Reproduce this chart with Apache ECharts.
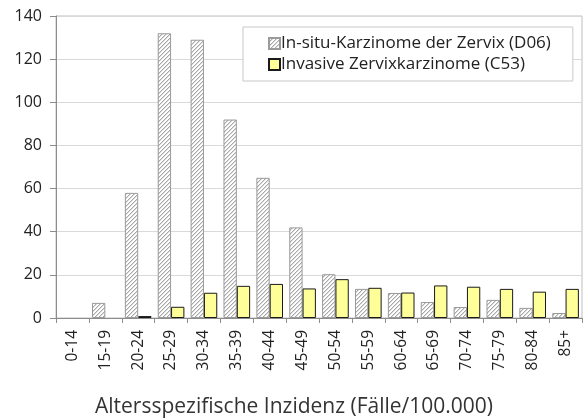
<!DOCTYPE html>
<html><head><meta charset="utf-8">
<script src="https://cdn.jsdelivr.net/npm/echarts@6/dist/echarts.min.js"></script>
<style>html,body{margin:0;padding:0;background:#fff}#c{width:584px;height:419px}</style>
</head><body><div id="c"></div>
<script>
const categories = ['0-14','15-19','20-24','25-29','30-34','35-39','40-44','45-49','50-54','55-59','60-64','65-69','70-74','75-79','80-84','85+'];
const inSitu = [0, 7, 58, 132, 129, 92, 65, 42, 20.3, 13.5, 11.6, 7.4, 5.1, 8.4, 4.7, 2.3];
const invasive = [0, 0, 0.9, 5.2, 11.7, 14.9, 15.8, 13.7, 18, 14, 11.8, 15.1, 14.5, 13.5, 12.2, 13.5];
const seriesNames = ['In-situ-Karzinome der Zervix (D06)', 'Invasive Zervixkarzinome (C53)'];
const yTicks = [0, 20, 40, 60, 80, 100, 120, 140];
const axisTitle = 'Altersspezifische Inzidenz (Fälle/100.000)';

const FONT = 'Open Sans';
const hideZero = arr => arr.map(v => (v === 0 ? '-' : v));

// "/" hatch tile
const tile = document.createElement('canvas');
tile.width = 4; tile.height = 4;
const tc = tile.getContext('2d');
tc.fillStyle = '#ffffff'; tc.fillRect(0, 0, 4, 4);
for (let i = 0; i < 4; i++) {
  tc.fillStyle = '#a8a8a8'; tc.fillRect(i, 3 - i, 1, 1);
  tc.fillStyle = '#dcdcdc'; tc.fillRect((i + 1) % 4, 3 - i, 1, 1);
}
const hatch = {image: tile, repeat: 'repeat'};

const chart = echarts.init(document.getElementById('c'), null, {renderer: 'canvas'});
chart.setOption({
  animation: false,
  textStyle: {fontFamily: FONT, color: '#222'},
  grid: {left: 56, right: 2, top: 16, bottom: 101, show: true, borderColor: '#bfbfbf', borderWidth: 1},
  title: {text: axisTitle, left: 90, top: 392, textStyle: {fontFamily: FONT, fontSize: 21, fontWeight: 'normal', color: '#333'}},
  legend: {
    orient: 'vertical', left: 243, top: 27,
    padding: [8, 22, 8, 25], itemGap: 4,
    itemWidth: 11, itemHeight: 11, icon: 'rect',
    backgroundColor: '#fff', borderColor: '#c8c8c8', borderWidth: 1,
    textStyle: {fontFamily: FONT, fontSize: 17, color: '#222', padding: [0, 0, 0, -4]},
    data: seriesNames
  },
  xAxis: {
    type: 'category', data: categories,
    axisLine: {lineStyle: {color: '#8c8c8c'}},
    axisTick: {show: true, length: 5, interval: 0, lineStyle: {color: '#8c8c8c'}},
    axisLabel: {rotate: 90, interval: 0, margin: 12, fontSize: 15.5, color: '#222', fontFamily: FONT}
  },
  yAxis: {
    type: 'value', min: 0, max: 140, interval: 20,
    axisLine: {show: true, lineStyle: {color: '#8c8c8c'}},
    axisTick: {show: true, length: 6, lineStyle: {color: '#8c8c8c'}},
    axisLabel: {fontSize: 16, margin: 14, color: '#222', fontFamily: FONT,
      formatter: v => yTicks.includes(v) ? String(v) : ''},
    splitLine: {lineStyle: {color: '#d9d9d9'}}
  },
  series: [
    {
      name: seriesNames[0], type: 'bar', data: hideZero(inSitu),
      barGap: '0%', barCategoryGap: '19%',
      itemStyle: {color: hatch, borderColor: '#9a9a9a', borderWidth: 1}
    },
    {
      name: seriesNames[1], type: 'bar', data: hideZero(invasive),
      barGap: '0%', barCategoryGap: '19%',
      itemStyle: {color: '#ffff99', borderColor: '#1a1a1a', borderWidth: 1}
    }
  ]
});
</script></body></html>
